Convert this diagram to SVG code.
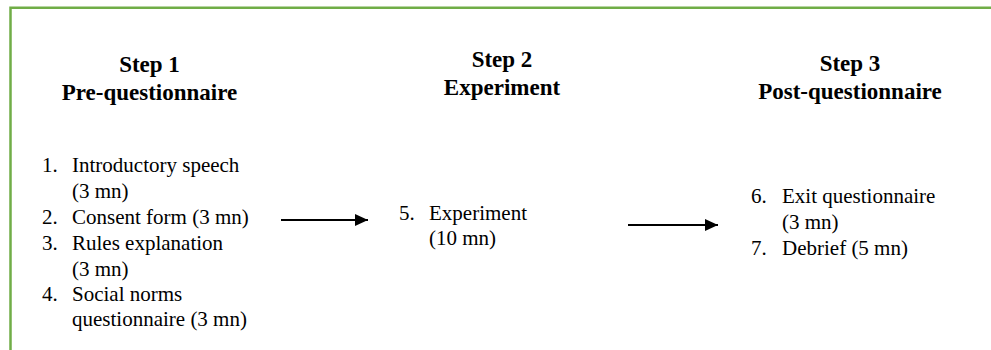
<svg xmlns="http://www.w3.org/2000/svg" width="991" height="350" viewBox="0 0 991 350">
<defs>
<style>
.h{font-family:"Liberation Serif","Times New Roman",serif;font-weight:bold;font-size:23px;fill:#000;text-anchor:middle}
.t{font-family:"Liberation Serif","Times New Roman",serif;font-size:21px;fill:#000}
.c{stroke:#000;stroke-width:2;fill:none}
.frame{stroke:#70AD47;stroke-width:2.5;fill:none}
</style>
<marker id="ah" markerUnits="userSpaceOnUse" markerWidth="13" markerHeight="12" refX="13" refY="6" orient="auto">
<path d="M0,0 L13,6 L0,12 Z" fill="#000"/>
</marker>
</defs>
<rect width="991" height="350" fill="#fff"/>
<path class="frame" d="M10.5,350 L10.5,7.75 L991,7.75"/>
<g id="step1">
<text class="h" x="149.5" y="72">Step 1</text>
<text class="h" x="149.5" y="99.5">Pre-questionnaire</text>
<text class="t" x="42" y="172">1.</text><text class="t" x="72" y="172">Introductory speech</text>
<text class="t" x="72" y="198">(3 mn)</text>
<text class="t" x="42" y="224">2.</text><text class="t" x="72" y="224">Consent form (3 mn)</text>
<text class="t" x="42" y="250">3.</text><text class="t" x="72" y="250">Rules explanation</text>
<text class="t" x="72" y="275.5">(3 mn)</text>
<text class="t" x="42" y="301">4.</text><text class="t" x="72" y="301">Social norms</text>
<text class="t" x="72" y="326">questionnaire (3 mn)</text>
</g>
<g id="step2">
<text class="h" x="502" y="67">Step 2</text>
<text class="h" x="502" y="95">Experiment</text>
<text class="t" x="399" y="219.5">5.</text><text class="t" x="429" y="219.5">Experiment</text>
<text class="t" x="429" y="245">(10 mn)</text>
</g>
<g id="step3">
<text class="h" x="850" y="71">Step 3</text>
<text class="h" x="850" y="99">Post-questionnaire</text>
<text class="t" x="751" y="203">6.</text><text class="t" x="782" y="203">Exit questionnaire</text>
<text class="t" x="782" y="229">(3 mn)</text>
<text class="t" x="751" y="255">7.</text><text class="t" x="782" y="255">Debrief (5 mn)</text>
</g>
<g id="connectors">
<line class="c" x1="281" y1="220" x2="368" y2="220" marker-end="url(#ah)"/>
<line class="c" x1="628" y1="225" x2="718" y2="225" marker-end="url(#ah)"/>
</g>
</svg>
